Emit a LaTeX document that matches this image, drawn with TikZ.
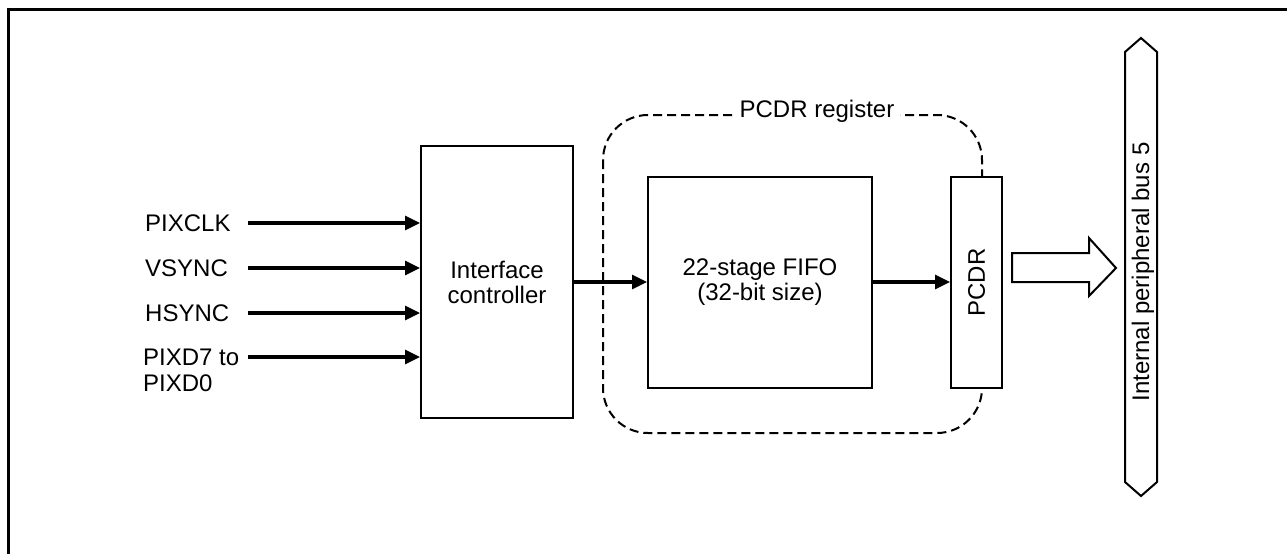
\documentclass[tikz,border=0pt]{standalone}
\usepackage{fontspec}
\setmainfont{Liberation Sans}
\usetikzlibrary{arrows.meta}
\begin{document}
\begin{tikzpicture}[x=1pt,y=-1pt,
  font=\fontsize{24}{28}\selectfont,
  box/.style={draw,line width=2pt,fill=white,inner sep=0pt},
  sig/.style={line width=3.2pt,-{Triangle[length=15pt,width=14pt]}},
  lbl/.style={anchor=west,inner sep=0pt,align=left}]
\useasboundingbox (0,0) rectangle (1287,554);
% outer frame (top and left visible)
\draw[line width=3.6pt] (8.5,554) -- (8.5,9.5) -- (1287,9.5);
% dashed PCDR register region
\draw[line width=2pt,dash pattern=on 9pt off 5pt,rounded corners=45pt]
  (603,115) rectangle (982,433);
\node[fill=white,inner xsep=6pt,inner ysep=2pt] (reglbl) at (817,111) {PCDR register};
% boxes
\node[box,minimum width=152pt,minimum height=272pt,align=center] (ic) at (497,282) {Interface\\[-3pt]controller};
\node[box,minimum width=224pt,minimum height=211pt,align=center] (fifo) at (760,282.5) {22-stage FIFO\\[-3pt](32-bit size)};
\node[box,minimum width=51pt,minimum height=211pt] (pcdr) at (976.5,282.5) {};
\node[rotate=90] (pcdrlbl) at (pcdr.center) {PCDR};
% inputs
\node[lbl] (pixclk) at (145,223) {PIXCLK};
\node[lbl] (vsync) at (145,268) {VSYNC};
\node[lbl] (hsync) at (145,313) {HSYNC};
\node[lbl] (pixd) at (143,370) {PIXD7 to\\[-2pt]PIXD0};
\coordinate (s1) at (248,223);
\coordinate (s2) at (248,268);
\coordinate (s3) at (248,313);
\coordinate (s4) at (248,357);
\draw[sig] (s1) -- (s1 -| ic.west);
\draw[sig] (s2) -- (s2 -| ic.west);
\draw[sig] (s3) -- (s3 -| ic.west);
\draw[sig] (s4) -- (s4 -| ic.west);
% internal arrows
\coordinate (m1) at (ic.east |- 0,282);
\draw[sig] (m1) -- (m1 -| fifo.west);
\coordinate (m2) at (fifo.east |- 0,282);
\draw[sig] (m2) -- (m2 -| pcdr.west);
% hollow arrow to bus
\draw[line width=2pt,fill=white,line join=miter]
  (1012,253) -- (1089,253) -- (1089,238) -- (1116,268) -- (1089,296) -- (1089,282) -- (1012,282) -- cycle;
% bus
\draw[line width=2pt,fill=white]
  (1141,38) -- (1157,52) -- (1157,482) -- (1141,496) -- (1125,482) -- (1125,52) -- cycle;
\node[rotate=90] (buslbl) at (1143,272) {Internal peripheral bus 5};
\end{tikzpicture}
\end{document}
